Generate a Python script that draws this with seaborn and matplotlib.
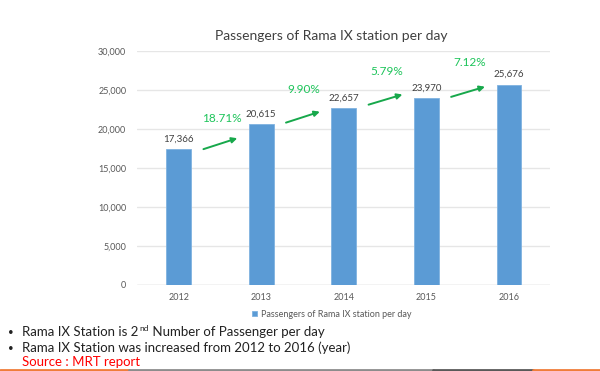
import matplotlib
matplotlib.use("Agg")
import matplotlib.pyplot as plt
import seaborn as sns
import pandas as pd
from matplotlib.lines import Line2D

years = ["2012", "2013", "2014", "2015", "2016"]
passengers = [17366, 20615, 22657, 23970, 25676]
growth_labels = ["18.71%", "9.90%", "5.79%", "7.12%"]
series_name = "Passengers of Rama IX station per day"
title = "Passengers of Rama IX station per day"
bullets = ["Rama IX Station is 2", "nd", " Number of Passenger per day",
           "Rama IX Station was increased from 2012 to 2016 (year)"]
source = "Source : MRT report"

df = pd.DataFrame({"year": years, "passengers": passengers})

sns.set_style("white")
plt.rcParams["font.family"] = ["Lato", "DejaVu Sans"]

fig = plt.figure(figsize=(6, 3.71), dpi=100)
ax = fig.add_axes([0.229, 0.232, 0.688, 0.631])

bar_color = "#5B9BD5"
sns.barplot(data=df, x="year", y="passengers", color=bar_color, width=0.3,
            edgecolor="#7FB2E0", linewidth=0.6, saturation=1, label=series_name,
            ax=ax, zorder=3)

ax.set_ylim(0, 30000)
ax.set_xlim(-0.5, 4.5)
ax.set_yticks(range(0, 30001, 5000))
ax.set_yticklabels([f"{v:,}" for v in range(0, 30001, 5000)])
ax.yaxis.grid(True, color="#E6E6E6", linewidth=1.0, zorder=0)
ax.xaxis.grid(False)
for s in ax.spines.values():
    s.set_visible(False)
ax.axhline(0, color="#D9D9D9", linewidth=1.0, zorder=2)
ax.tick_params(axis="both", length=0, labelsize=6.5, labelcolor="#595959")
ax.tick_params(axis="y", pad=8)
ax.tick_params(axis="x", pad=6)
ax.set_xlabel("")
ax.set_ylabel("")

# value labels
for i, v in enumerate(passengers):
    ax.text(i, v + 700, f"{v:,}", ha="center", va="bottom", fontsize=7, color="#404040")

# growth arrows
arrow_start_y = [17400, 20800, 23100, 24100]
arrow_end_y = [18800, 22200, 24400, 25400]
label_y = [21300, 25100, 27400, 28500]
for i, lab in enumerate(growth_labels):
    ax.annotate("", xy=(i + 0.71, arrow_end_y[i]), xytext=(i + 0.30, arrow_start_y[i]),
                arrowprops=dict(arrowstyle="-|>", color="#17A84B", lw=1.4,
                                mutation_scale=8, shrinkA=0, shrinkB=0),
                annotation_clip=False, zorder=4)
    ax.text(i + 0.52, label_y[i], lab, ha="center", va="center", fontsize=8.5,
            color="#1DC45A", clip_on=False)

fig.text(0.552, 0.902, title, ha="center", va="center", fontsize=10, color="#404040")

ax.legend(loc="center", bbox_to_anchor=(0.553, 0.153), bbox_transform=fig.transFigure,
          frameon=False, fontsize=6.5, handlelength=0.6, handleheight=0.6,
          handletextpad=0.4, labelcolor="#595959")

# bullet text
fs = 9.5
b1 = 1 - 335.5 / 371
b2 = 1 - 351.5 / 371
b3 = 1 - 366 / 371
tc = "#222222"
fig.text(0.013, b1, "•", fontsize=7, va="baseline", color=tc)
t1 = fig.text(0.037, b1, bullets[0], fontsize=fs, va="baseline", color=tc)
fig.canvas.draw()
r = fig.canvas.get_renderer()
bb = t1.get_window_extent(renderer=r)
t2 = fig.text(bb.x1 / fig.bbox.width + 0.001, b1 + 0.012, bullets[1], fontsize=6,
              va="baseline", color=tc)
bb2 = t2.get_window_extent(renderer=r)
fig.text(bb2.x1 / fig.bbox.width, b1, bullets[2], fontsize=fs, va="baseline", color=tc)
fig.text(0.013, b2, "•", fontsize=7, va="baseline", color=tc)
fig.text(0.037, b2, bullets[3], fontsize=fs, va="baseline", color=tc)
fig.text(0.037, b3, source, fontsize=fs, va="baseline", color="#FF0000")

# bottom decorative line
for x0, x1, c in [(0, 0.215, "#F07D3A"), (0.215, 0.722, "#8C8C8C"),
                  (0.722, 0.888, "#595959"), (0.888, 1.0, "#F07D3A")]:
    fig.add_artist(Line2D([x0, x1], [0.004, 0.004], transform=fig.transFigure,
                          color=c, linewidth=2))

fig.savefig("out.png", dpi=100)
